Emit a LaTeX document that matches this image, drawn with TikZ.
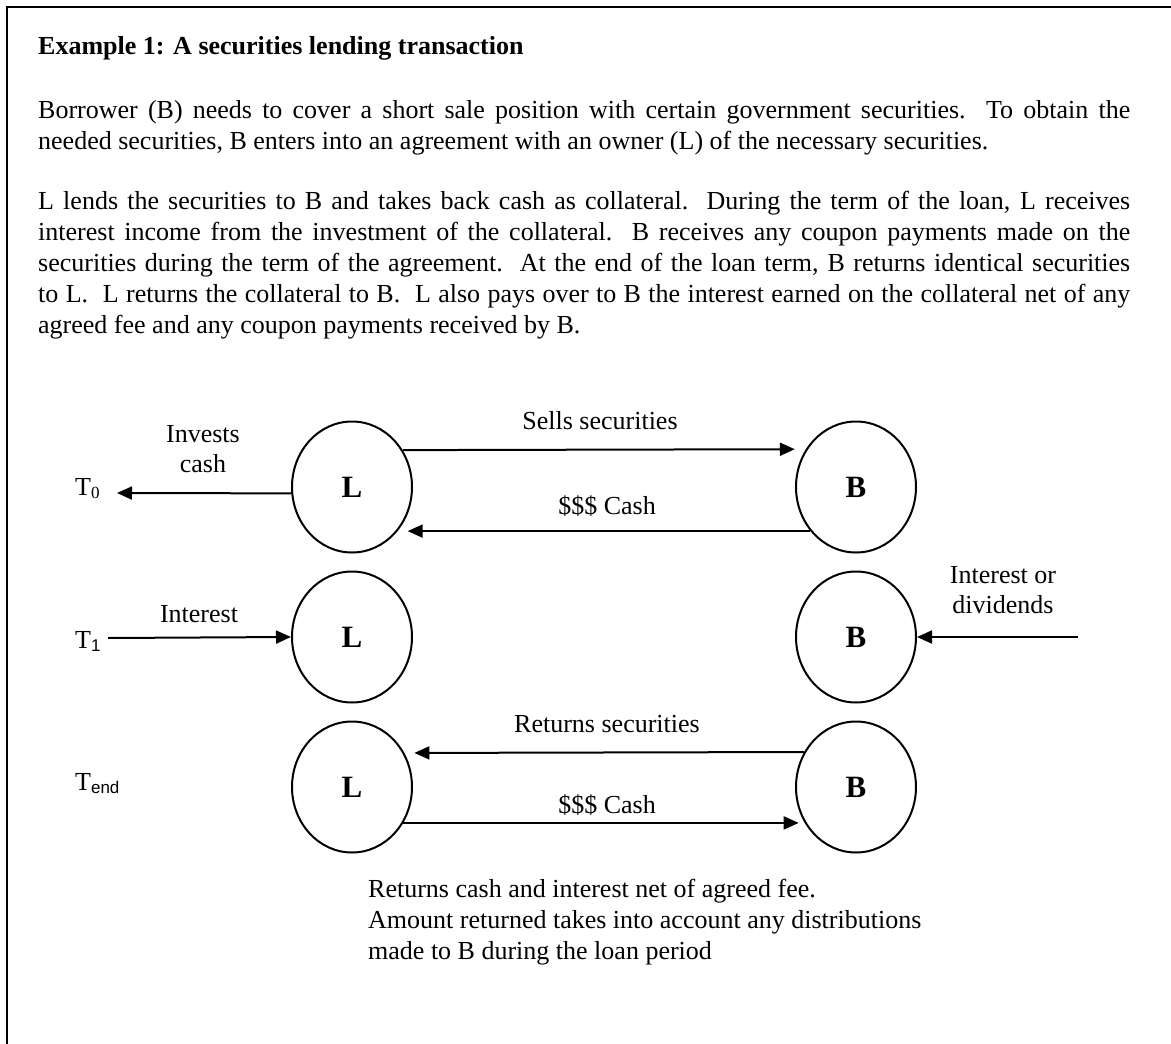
\documentclass[tikz,border=0pt]{standalone}
\usepackage{fontspec}
\setmainfont{Liberation Serif}
\newfontfamily\sansfam{Liberation Sans}
\usetikzlibrary{shapes.geometric,arrows.meta}
\newcommand\bodysz{\fontsize{26}{31}\selectfont}
\newcommand\nodesz{\fontsize{31}{36}\selectfont}
\newcommand\subsz{\fontsize{17}{17}\selectfont}
\begin{document}
\begin{tikzpicture}[x=1pt,y=-1pt,
  party/.style={draw, ellipse, line width=2pt, minimum width=120pt, minimum height=131pt, inner sep=0pt, font=\nodesz\bfseries},
  arr/.style={line width=2pt, -{Triangle[length=15pt,width=13pt]}},
  txt/.style={inner sep=0pt, anchor=base, font=\bodysz},
  bodyline/.style={inner sep=0pt, anchor=base west, font=\bodysz}]
\useasboundingbox (0,0) rectangle (1171,1044);
\draw[line width=2.6pt, line join=miter] (7,1044) -- (7,7) -- (1171,7);

% text block
\node[bodyline] (title) at (38,54) {\bfseries Example 1: A securities lending transaction};
\node[bodyline] (p1a) at (38,118) {\makebox[1092pt][s]{Borrower (B) needs to cover a short sale position with certain government securities.\ \ To obtain the}};
\node[bodyline] (p1b) at (38,149) {needed securities, B enters into an agreement with an owner (L) of the necessary securities.};
\node[bodyline] (p2a) at (38,209) {\makebox[1092pt][s]{L lends the securities to B and takes back cash as collateral.\ \ During the term of the loan, L receives}};
\node[bodyline] (p2b) at (38,240) {\makebox[1092pt][s]{interest income from the investment of the collateral.\ \ B receives any coupon payments made on the}};
\node[bodyline] (p2c) at (38,271) {\makebox[1092pt][s]{securities during the term of the agreement.\ \ At the end of the loan term, B returns identical securities}};
\node[bodyline] (p2d) at (38,302) {\makebox[1092pt][s]{to L.\ \ L returns the collateral to B.\ \ L also pays over to B the interest earned on the collateral net of any}};
\node[bodyline] (p2e) at (38,333) {agreed fee and any coupon payments received by B.};

% parties
\node[party] (L1) at (352,487) {L};
\node[party] (B1) at (856,487) {B};
\node[party] (L2) at (352,637) {L};
\node[party] (B2) at (856,637) {B};
\node[party] (L3) at (352,787) {L};
\node[party] (B3) at (856,787) {B};

% time labels
\node[bodyline] (T0) at (75,495) {T\raisebox{-3pt}{\subsz 0}};
\node[bodyline] (T1) at (75,648) {T\raisebox{-3pt}{\subsz\sansfam 1}};
\node[bodyline] (Tend) at (75,790) {T\raisebox{-3pt}{\subsz\sansfam end}};

% free ends
\coordinate (t0tip) at (117,493);
\coordinate (t1start) at (108,638);
\coordinate (divstart) at (1078,637);

% connectors
\draw[arr] (L1.186.7) -- (t0tip);
\draw[arr, shorten >=11pt] (L1.36.7) -- (B1.143.3);
\draw[arr, shorten >=10pt] (B1.224.5) -- (L1.-44.5);
\draw[arr] (t1start) -- (L2.west);
\draw[arr] (divstart) -- (B2.east);
\draw[arr, shorten >=10pt] (B3.146.5) -- (L3.33.5);
\draw[arr, shorten >=6pt] (L3.-35.6) -- (B3.215.6);

% connector labels
\node[txt] (inv1) at (203,442) {Invests};
\node[txt] (inv2) at (203,472) {cash};
\node[txt] (sells) at (600,429) {Sells securities};
\node[txt] (cash1) at (607,514) {\$\$\$ Cash};
\node[txt] (intr) at (199,622) {Interest};
\node[txt] (div1) at (1003,583) {Interest or};
\node[txt] (div2) at (1003,613) {dividends};
\node[txt] (rets) at (607,732) {Returns securities};
\node[txt] (cash2) at (607,813) {\$\$\$ Cash};

% note
\node[bodyline] (n1) at (368,897) {Returns cash and interest net of agreed fee.};
\node[bodyline] (n2) at (368,928) {Amount returned takes into account any distributions};
\node[bodyline] (n3) at (368,959) {made to B during the loan period};
\end{tikzpicture}
\end{document}
